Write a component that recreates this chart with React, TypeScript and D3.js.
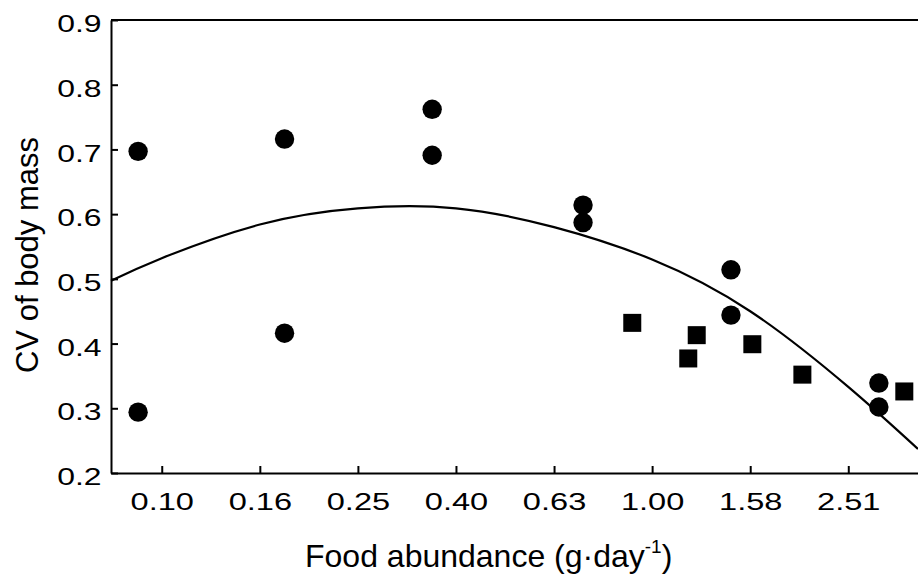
import React, { useEffect, useRef } from "react";
import * as d3 from "d3";

// Low-density treatment (circles): food abundance (g/day) and CV of body mass
const circleFood = [0.0895, 0.0895, 0.178, 0.178, 0.356, 0.356, 0.723, 0.723, 1.448, 1.448, 2.9, 2.9];
const circleCV = [0.697, 0.294, 0.716, 0.416, 0.762, 0.691, 0.614, 0.587, 0.514, 0.444, 0.339, 0.302];

// High-density treatment (squares)
const squareFood = [0.911, 1.185, 1.233, 1.601, 2.025, 3.268];
const squareCV = [0.432, 0.377, 0.413, 0.399, 0.352, 0.326];

// Fitted regression curve, sampled along food abundance
const fitFood = [0.0788, 0.1, 0.1585, 0.2512, 0.3981, 0.631, 1.0, 1.585, 2.512, 3.485];
const fitCV = [0.497, 0.532, 0.584, 0.609, 0.609, 0.58, 0.53, 0.45, 0.333, 0.237];

// Axis ticks
const xTicks = [0.1, 0.1585, 0.2512, 0.3981, 0.631, 1.0, 1.585, 2.512];
const xTickLabels = ["0.10", "0.16", "0.25", "0.40", "0.63", "1.00", "1.58", "2.51"];
const yTicks = [0.2, 0.3, 0.4, 0.5, 0.6, 0.7, 0.8, 0.9];
const yTickLabels = ["0.2", "0.3", "0.4", "0.5", "0.6", "0.7", "0.8", "0.9"];

const W = 918;
const H = 581;
const FONT = "'Liberation Sans', Arial, Helvetica, sans-serif";

export default function App() {
  const ref = useRef<SVGSVGElement | null>(null);

  useEffect(() => {
    const svg = d3.select(ref.current);
    svg.selectAll("*").remove();

    const left = 111;
    const right = 918;
    const top = 20;
    const bottom = 473;

    const x = d3.scaleLog().domain([0.0788, 3.485]).range([left, right]);
    const y = d3.scaleLinear().domain([0.2, 0.9]).range([bottom, top]);

    // top frame line
    svg
      .append("line")
      .attr("x1", left)
      .attr("x2", right)
      .attr("y1", top)
      .attr("y2", top)
      .attr("stroke", "#000")
      .attr("stroke-width", 2);

    // x axis
    const xAxis = d3
      .axisBottom(x)
      .tickValues(xTicks)
      .tickFormat((_d, i) => xTickLabels[i])
      .tickSizeInner(-7)
      .tickSizeOuter(0);
    const gx = svg.append("g").attr("transform", `translate(0,${bottom})`).call(xAxis);
    gx.attr("font-family", null).attr("font-size", null);
    gx.select(".domain").attr("stroke", "#000").attr("stroke-width", 2);
    gx.selectAll(".tick line").attr("stroke", "#000").attr("stroke-width", 2);
    gx.selectAll(".tick text")
      .attr("y", 37)
      .attr("dy", 0)
      .attr("transform", "scale(1.33,1)")
      .attr("fill", "#000")
      .style("font-family", FONT)
      .style("font-size", "24.5px");

    // y axis
    const yAxis = d3
      .axisLeft(y)
      .tickValues(yTicks)
      .tickFormat((_d, i) => yTickLabels[i])
      .tickSizeInner(-7)
      .tickSizeOuter(0);
    const gy = svg.append("g").attr("transform", `translate(${left},0)`).call(yAxis);
    gy.attr("font-family", null).attr("font-size", null);
    gy.select(".domain").attr("stroke", "#000").attr("stroke-width", 2);
    gy.selectAll(".tick line").attr("stroke", "#000").attr("stroke-width", 2);
    gy.selectAll(".tick text")
      .attr("x", 0)
      .attr("dy", "0.32em")
      .attr("transform", "translate(-9.5,4) scale(1.33,1)")
      .attr("text-anchor", "end")
      .attr("fill", "#000")
      .style("font-family", FONT)
      .style("font-size", "24px");

    // fitted curve
    const fitData = fitFood.map((f, i) => [f, fitCV[i]] as [number, number]);
    const line = d3
      .line<[number, number]>()
      .x((d) => x(d[0]))
      .y((d) => y(d[1]))
      .curve(d3.curveNatural);
    svg
      .append("path")
      .attr("d", line(fitData))
      .attr("fill", "none")
      .attr("stroke", "#000")
      .attr("stroke-width", 2.2);

    // circles
    svg
      .append("g")
      .selectAll("circle")
      .data(circleFood.map((f, i) => [f, circleCV[i]]))
      .join("circle")
      .attr("cx", (d) => x(d[0]))
      .attr("cy", (d) => y(d[1]))
      .attr("r", 9.7)
      .attr("fill", "#000");

    // squares
    const s = 18;
    svg
      .append("g")
      .selectAll("rect")
      .data(squareFood.map((f, i) => [f, squareCV[i]]))
      .join("rect")
      .attr("x", (d) => x(d[0]) - s / 2)
      .attr("y", (d) => y(d[1]) - s / 2)
      .attr("width", s)
      .attr("height", s)
      .attr("fill", "#000");

    // axis titles
    const xt = svg
      .append("text")
      .attr("x", 305)
      .attr("y", 567)
      .attr("fill", "#000")
      .style("font-family", FONT)
      .style("font-size", "32px");
    xt.append("tspan").text("Food abundance (g·day");
    xt.append("tspan").attr("dx", 0).attr("dy", -14).style("font-size", "19px").text("-1");
    xt.append("tspan").attr("dy", 14).text(")");

    svg
      .append("text")
      .attr("transform", `translate(38,255) rotate(-90)`)
      .attr("text-anchor", "middle")
      .attr("fill", "#000")
      .style("font-family", FONT)
      .style("font-size", "31px")
      .text("CV of body mass");
  }, []);

  return (
    <svg
      ref={ref}
      width={W}
      height={H}
      style={{ position: "absolute", left: 0, top: 0, background: "#fff" }}
    />
  );
}
